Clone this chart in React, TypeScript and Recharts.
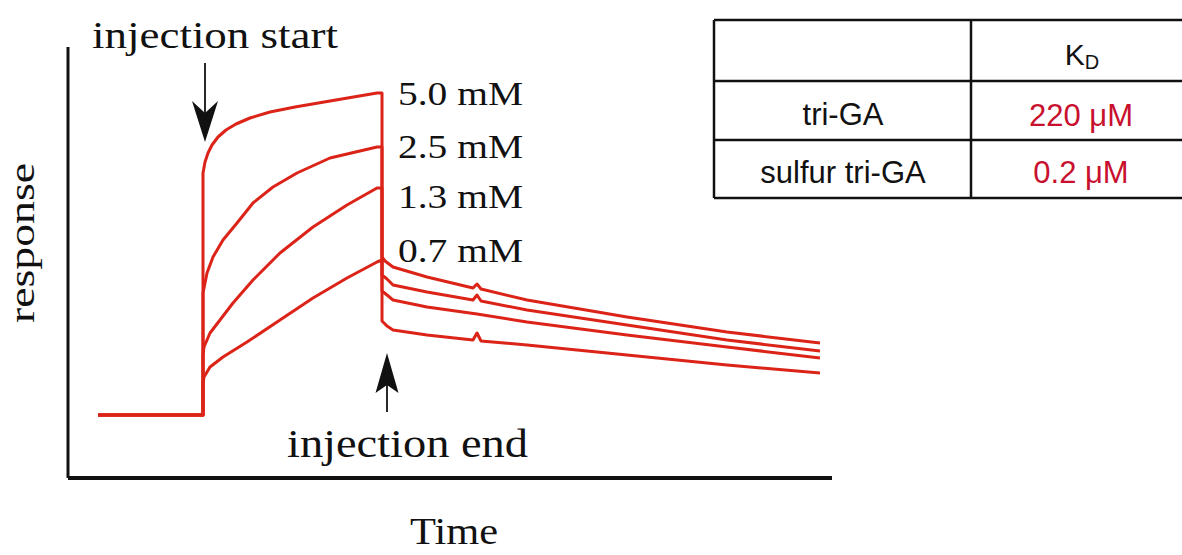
import { ComposedChart, Line, XAxis, YAxis, ReferenceLine } from 'recharts';

// sensorgram: time (s) and response (RU, baseline = 0)
const concLabels = ['5.0 mM', '2.5 mM', '1.3 mM', '0.7 mM'];

const t50 = [30, 135, 135, 137, 140, 144, 150, 158, 168, 182, 202, 227, 262, 309, 314, 314, 317, 325, 359, 405, 409, 413, 459, 559, 659, 752];
const r50 = [0, 0, 242, 253, 262, 270, 278, 285, 291, 297, 303, 308, 314, 322, 322, 158, 154, 148, 138, 127, 131, 126, 115, 98, 83, 72];

const t25 = [30, 135, 135, 137, 139, 145, 155, 169, 185, 205, 229, 262, 309, 314, 314, 319, 325, 359, 405, 409, 413, 459, 559, 659, 752];
const r25 = [0, 0, 122, 132, 142, 158, 175, 192, 212, 228, 242, 257, 268, 268, 140, 136, 130, 123, 115, 120, 114, 105, 90, 75, 64];

const t13 = [30, 135, 135, 136, 142, 152, 165, 185, 212, 245, 279, 309, 314, 314, 319, 325, 359, 409, 459, 559, 659, 752];
const r13 = [0, 0, 60, 68, 82, 95, 112, 135, 162, 188, 210, 227, 227, 124, 120, 115, 108, 101, 93, 80, 68, 57];

const t07 = [30, 135, 135, 136, 142, 155, 179, 212, 245, 279, 309, 314, 314, 319, 325, 359, 405, 409, 413, 459, 559, 659, 752];
const r07 = [0, 0, 32, 38, 48, 58, 73, 95, 117, 137, 153, 155, 94, 89, 85, 80, 75, 82, 74, 70, 60, 50, 42];

const injectionStart = 137;
const injectionEnd = 319;

const kdRows = ['tri-GA', 'sulfur tri-GA'];
const kdValues = ['220 μM', '0.2 μM'];

const zip = (t: number[], r: number[]) => t.map((v, i) => ({ t: v, r: r[i] }));
const curves = [zip(t50, r50), zip(t25, r25), zip(t13, r13), zip(t07, r07)];

const RED = '#dc2318';
const INK = '#111';
const SERIF = "'Liberation Serif', 'Times New Roman', serif";
const SANS = "'Liberation Sans', Arial, sans-serif";

const arrowShape = (head: number, half: number, notch: number) => (props: any) => {
  const { x1, y1, x2, y2 } = props;
  const len = Math.hypot(x2 - x1, y2 - y1) || 1;
  const ux = (x2 - x1) / len;
  const uy = (y2 - y1) / len;
  const bx = x2 - ux * head;
  const by = y2 - uy * head;
  const nx = x2 - ux * (head - notch);
  const ny = y2 - uy * (head - notch);
  const pts = [
    [x2, y2],
    [bx - uy * half, by + ux * half],
    [nx, ny],
    [bx + uy * half, by - ux * half],
  ];
  return (
    <g>
      <line x1={x1} y1={y1} x2={nx} y2={ny} stroke={INK} strokeWidth={1.8} />
      <polygon points={pts.map((p) => p.join(',')).join(' ')} fill={INK} />
    </g>
  );
};

export default function App() {
  return (
    <div style={{ position: 'absolute', left: 0, top: 0, width: 1182, height: 555, overflow: 'hidden', background: '#fff' }}>
      <ComposedChart width={1182} height={555} margin={{ top: 47, right: 350, bottom: 47, left: 8 }}>
        <XAxis
          type="number"
          dataKey="t"
          domain={[0, 764]}
          allowDataOverflow
          tick={false}
          tickLine={false}
          height={30}
          axisLine={{ stroke: INK, strokeWidth: 4 }}
        />
        <YAxis
          type="number"
          dataKey="r"
          domain={[-63, 368]}
          allowDataOverflow
          tick={false}
          tickLine={false}
          width={60}
          axisLine={{ stroke: INK, strokeWidth: 3 }}
        />
        {curves.map((d, i) => (
          <Line
            key={concLabels[i]}
            data={d}
            dataKey="r"
            type="linear"
            stroke={RED}
            strokeWidth={3}
            strokeLinejoin="round"
            dot={false}
            activeDot={false}
            isAnimationActive={false}
          />
        ))}
        <ReferenceLine
          segment={[{ x: injectionStart, y: 352 }, { x: injectionStart, y: 273 }]}
          ifOverflow="visible"
          shape={arrowShape(41, 13, 12)}
        />
        <ReferenceLine
          segment={[{ x: injectionEnd, y: 3 }, { x: injectionEnd, y: 62 }]}
          ifOverflow="visible"
          shape={arrowShape(40, 11.5, 8)}
        />
      </ComposedChart>

      <svg width={1182} height={555} style={{ position: 'absolute', left: 0, top: 0, pointerEvents: 'none' }}>
        <g fill={INK} fontFamily={SERIF}>
          <text x={92} y={48} fontSize={38} textLength={246} lengthAdjust="spacingAndGlyphs">injection start</text>
          <text x={287} y={457} fontSize={40} textLength={241} lengthAdjust="spacingAndGlyphs">injection end</text>
          {concLabels.map((c, i) => (
            <text key={c} x={398} y={[105, 158, 208, 262][i]} fontSize={34} textLength={125} lengthAdjust="spacingAndGlyphs">
              {c}
            </text>
          ))}
          <text x={410} y={544} fontSize={38} textLength={88} lengthAdjust="spacingAndGlyphs">Time</text>
          <text
            transform="translate(34,243) rotate(-90)"
            x={-80}
            y={0}
            fontSize={36}
            textLength={160}
            lengthAdjust="spacingAndGlyphs"
          >
            response
          </text>
        </g>

        <g stroke={INK} strokeWidth={2.5}>
          <line x1={714} y1={20} x2={1182} y2={20} />
          <line x1={714} y1={81} x2={1182} y2={81} />
          <line x1={714} y1={140} x2={1182} y2={140} />
          <line x1={714} y1={198} x2={1182} y2={198} />
          <line x1={714} y1={20} x2={714} y2={198} />
          <line x1={971} y1={20} x2={971} y2={198} />
        </g>
        <g fontFamily={SANS} textAnchor="middle">
          <text x={1082} y={65} fontSize={30} fill={INK}>
            K<tspan fontSize={20} dy={4}>D</tspan>
          </text>
          {kdRows.map((name, i) => (
            <text key={name} x={843} y={[125, 183][i]} fontSize={31} fill={INK}>
              {name}
            </text>
          ))}
          {kdValues.map((v, i) => (
            <text key={v} x={1081} y={[126, 183][i]} fontSize={31} fill="#c8102e">
              {v}
            </text>
          ))}
        </g>
      </svg>
    </div>
  );
}
